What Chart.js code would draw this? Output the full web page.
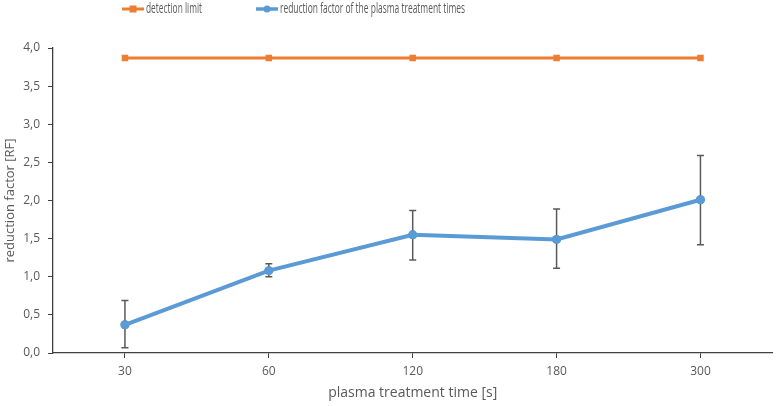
<!DOCTYPE html>
<html>
<head>
<meta charset="utf-8">
<script src="https://cdn.jsdelivr.net/npm/chart.js@4/dist/chart.umd.min.js"></script>
<style>
  html, body { margin: 0; padding: 0; background: #fff; }
  #wrap { width: 777px; height: 406px; position: relative; }
</style>
</head>
<body>
<div id="wrap"><canvas id="c" width="777" height="406"></canvas></div>
<script>
const categories = ['30', '60', '120', '180', '300'];
const detectionLimit = [3.87, 3.87, 3.87, 3.87, 3.87];
const reductionFactor = [0.37, 1.08, 1.55, 1.49, 2.01];
const errorLow = [0.07, 1.00, 1.22, 1.11, 1.42];
const errorHigh = [0.69, 1.17, 1.87, 1.89, 2.59];
const seriesLabels = ['detection limit', 'reduction factor of the plasma treatment times'];
const xTitle = 'plasma treatment time [s]';
const yTitle = 'reduction factor [RF]';

const ORANGE = '#ED7D31';
const BLUE = '#5B9BD5';
const TEXT = '#595959';
const AXIS = '#404040';

const errorBarPlugin = {
  id: 'errorBars',
  afterDatasetsDraw(chart) {
    const meta = chart.getDatasetMeta(1);
    const x = chart.scales.x, y = chart.scales.y;
    const ctx = chart.ctx;
    ctx.save();
    ctx.strokeStyle = '#595959';
    ctx.lineWidth = 1.5;
    meta.data.forEach((pt, i) => {
      const px = x.getPixelForValue(i);
      const top = y.getPixelForValue(errorHigh[i]);
      const bot = y.getPixelForValue(errorLow[i]);
      ctx.beginPath();
      ctx.moveTo(px, top); ctx.lineTo(px, bot);
      ctx.moveTo(px - 3.5, top); ctx.lineTo(px + 3.5, top);
      ctx.moveTo(px - 3.5, bot); ctx.lineTo(px + 3.5, bot);
      ctx.stroke();
    });
    ctx.restore();
    meta.data.forEach(pt => pt.draw(ctx, chart.chartArea));
  }
};

const legendPlugin = {
  id: 'customLegend',
  afterDraw(chart) {
    const ctx = chart.ctx;
    ctx.save();
    const cy = 9;
    const items = [
      { x: 122, color: ORANGE, style: 'rect', lw: 3, label: chart.data.datasets[0].label, w: 56 },
      { x: 256, color: BLUE, style: 'circle', lw: 3.5, label: chart.data.datasets[1].label, w: 185 }
    ];
    items.forEach(it => {
      ctx.strokeStyle = it.color;
      ctx.fillStyle = it.color;
      ctx.lineWidth = it.lw;
      ctx.beginPath();
      ctx.moveTo(it.x, cy); ctx.lineTo(it.x + 22, cy);
      ctx.stroke();
      if (it.style === 'rect') {
        ctx.fillRect(it.x + 11 - 3.5, cy - 3.5, 7, 7);
      } else {
        ctx.beginPath();
        ctx.arc(it.x + 11, cy, 3.5, 0, Math.PI * 2);
        ctx.fill();
      }
      ctx.fillStyle = TEXT;
      ctx.font = '14px "Open Sans", sans-serif';
      ctx.textBaseline = 'middle';
      ctx.textAlign = 'left';
      ctx.fillText(it.label, it.x + 24, cy + 0.5, it.w);
    });
    ctx.restore();
  }
};

new Chart(document.getElementById('c'), {
  type: 'line',
  data: {
    labels: categories,
    datasets: [
      {
        label: seriesLabels[0],
        data: detectionLimit,
        borderColor: ORANGE,
        backgroundColor: ORANGE,
        borderWidth: 3,
        pointStyle: 'rect',
        pointRadius: 4.6,
        pointHoverRadius: 4.6,
        pointBorderWidth: 0,
        tension: 0
      },
      {
        label: seriesLabels[1],
        data: reductionFactor,
        borderColor: BLUE,
        backgroundColor: BLUE,
        borderWidth: 4,
        pointStyle: 'circle',
        pointRadius: 4.5,
        pointHoverRadius: 4.5,
        pointBorderWidth: 0,
        tension: 0
      }
    ]
  },
  options: {
    responsive: false,
    animation: false,
    devicePixelRatio: 1,
    layout: { padding: { top: 48, right: 4, left: 0, bottom: 0 } },
    plugins: {
      legend: { display: false },
      tooltip: { enabled: false }
    },
    scales: {
      x: {
        offset: true,
        grid: { display: true, drawOnChartArea: false, offset: false, tickLength: 5, color: AXIS, lineWidth: 1 },
        border: { display: true, color: AXIS, width: 1.3 },
        ticks: { color: TEXT, font: { family: '"Open Sans", sans-serif', size: 12 }, padding: 6 },
        title: { display: true, text: xTitle, color: TEXT, font: { family: '"Open Sans", sans-serif', size: 14 }, padding: { top: 0, bottom: 5 } },
        afterFit(scale) { scale.height = 53; }
      },
      y: {
        min: 0,
        max: 4,
        grid: { display: true, drawOnChartArea: false, tickLength: 5, color: AXIS, lineWidth: 1 },
        border: { display: true, color: AXIS, width: 1.3 },
        ticks: {
          stepSize: 0.5,
          color: TEXT,
          font: { family: '"Open Sans", sans-serif', size: 12 },
          padding: 8,
          callback: v => Number(v).toFixed(1).replace('.', ',')
        },
        title: { display: true, text: yTitle, color: TEXT, font: { family: '"Open Sans", sans-serif', size: 13 }, padding: { top: 2, bottom: 0 } },
        afterFit(scale) { scale.width = 53; }
      }
    }
  },
  plugins: [errorBarPlugin, legendPlugin]
});
</script>
</body>
</html>
